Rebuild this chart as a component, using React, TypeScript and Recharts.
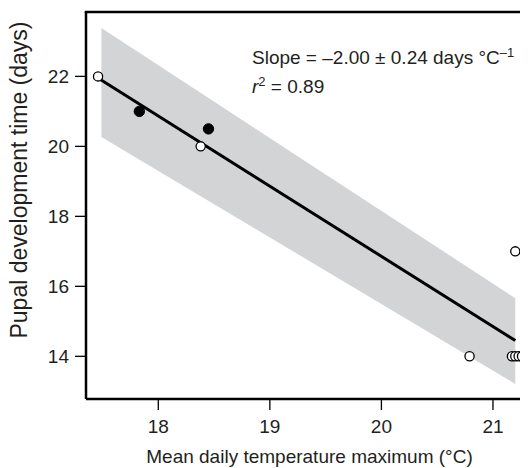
import React from 'react';
import { ComposedChart, XAxis, YAxis, Scatter, Line, Area, Label } from 'recharts';

const xTicks = [18, 19, 20, 21];
const yTicks = [14, 16, 18, 20, 22];

const openPoints = [
  { x: 17.46, y: 22 },
  { x: 18.38, y: 20 },
  { x: 20.79, y: 14 },
  { x: 21.2, y: 17 },
  { x: 21.17, y: 14 },
  { x: 21.2, y: 14 },
  { x: 21.23, y: 14 },
  { x: 21.26, y: 14 },
];

const filledPoints = [
  { x: 17.83, y: 21 },
  { x: 18.45, y: 20.5 },
];

const fitLine = [
  { x: 17.47, y: 21.93 },
  { x: 21.2, y: 14.45 },
];

const bandX = [17.49, 21.2];
const bandLow = [20.27, 13.21];
const bandHigh = [23.38, 15.66];
const bandData = bandX.map((x, i) => ({ x, band: [bandLow[i], bandHigh[i]] }));

const X_DOMAIN: [number, number] = [17.352, 21.314];
const Y_DOMAIN: [number, number] = [12.78, 23.84];

const FONT = '"Liberation Sans", Arial, Helvetica, sans-serif';
const TEXT = '#231f20';

const OpenDot = (props: any) => (
  <circle cx={props.cx} cy={props.cy} r={4.6} fill="#fff" stroke="#000" strokeWidth={1.3} />
);
const FilledDot = (props: any) => (
  <circle cx={props.cx} cy={props.cy} r={5.2} fill="#000" stroke="#000" strokeWidth={1} />
);

export default function App() {
  const W = 520;
  const H = 460;
  return (
    <div style={{ position: 'relative', width: W, height: H, fontFamily: FONT }}>
      <ComposedChart width={W} height={H} margin={{ top: 4, right: 0, bottom: 0, left: 0 }}>
        <XAxis
          dataKey="x"
          type="number"
          domain={X_DOMAIN}
          allowDataOverflow
          ticks={xTicks}
          height={69}
          tickSize={11}
          tickMargin={10}
          tick={{ fontSize: 19, fill: TEXT, fontFamily: FONT }}
          axisLine={{ stroke: '#000', strokeWidth: 2.5 }}
          tickLine={{ stroke: '#000', strokeWidth: 1.3 }}
        >
          <Label
            content={() => (
              <text x={301.5} y={455} textAnchor="middle" fontSize={19} fill={TEXT} fontFamily={FONT}>
                Mean daily temperature maximum (°C)
              </text>
            )}
          />
        </XAxis>
        <YAxis
          type="number"
          dataKey="y"
          domain={Y_DOMAIN}
          allowDataOverflow
          ticks={yTicks}
          width={78}
          tickSize={11}
          tickMargin={6}
          tick={{ fontSize: 19, fill: TEXT, fontFamily: FONT }}
          axisLine={{ stroke: '#000', strokeWidth: 2.5 }}
          tickLine={{ stroke: '#000', strokeWidth: 1.3 }}
        >
          <Label
            content={() => (
              <text
                x={18.5}
                y={172}
                transform="rotate(-90, 18.5, 172)"
                textAnchor="middle"
                fontSize={23}
                fill={TEXT}
                fontFamily={FONT}
              >
                Pupal development time (days)
              </text>
            )}
          />
        </YAxis>
        <Area
          data={bandData}
          dataKey="band"
          type="linear"
          stroke="none"
          fill="#d3d4d6"
          fillOpacity={1}
          isAnimationActive={false}
          activeDot={false}
          dot={false}
        />
        <Line
          data={fitLine}
          dataKey="y"
          type="linear"
          stroke="#000"
          strokeWidth={3}
          dot={false}
          activeDot={false}
          isAnimationActive={false}
        />
        <Scatter data={openPoints} dataKey="y" shape={OpenDot} isAnimationActive={false} />
        <Scatter data={filledPoints} dataKey="y" shape={FilledDot} isAnimationActive={false} />
      </ComposedChart>
      <svg
        width={W}
        height={H}
        style={{ position: 'absolute', left: 0, top: 0, pointerEvents: 'none' }}
      >
        <line x1={76.75} x2={W} y1={4} y2={4} stroke="#000" strokeWidth={2.5} />
        <text x={244} y={56} fontSize={19} fill={TEXT} fontFamily={FONT}>
          Slope = –2.00 ± 0.24 days °C
          <tspan dy={-7} fontSize={13}>–1</tspan>
        </text>
        <text x={244} y={85} fontSize={19} fill={TEXT} fontFamily={FONT}>
          <tspan fontStyle="italic">r</tspan>
          <tspan dy={-7} fontSize={13}>2</tspan>
          <tspan dy={7}> = 0.89</tspan>
        </text>
      </svg>
    </div>
  );
}
